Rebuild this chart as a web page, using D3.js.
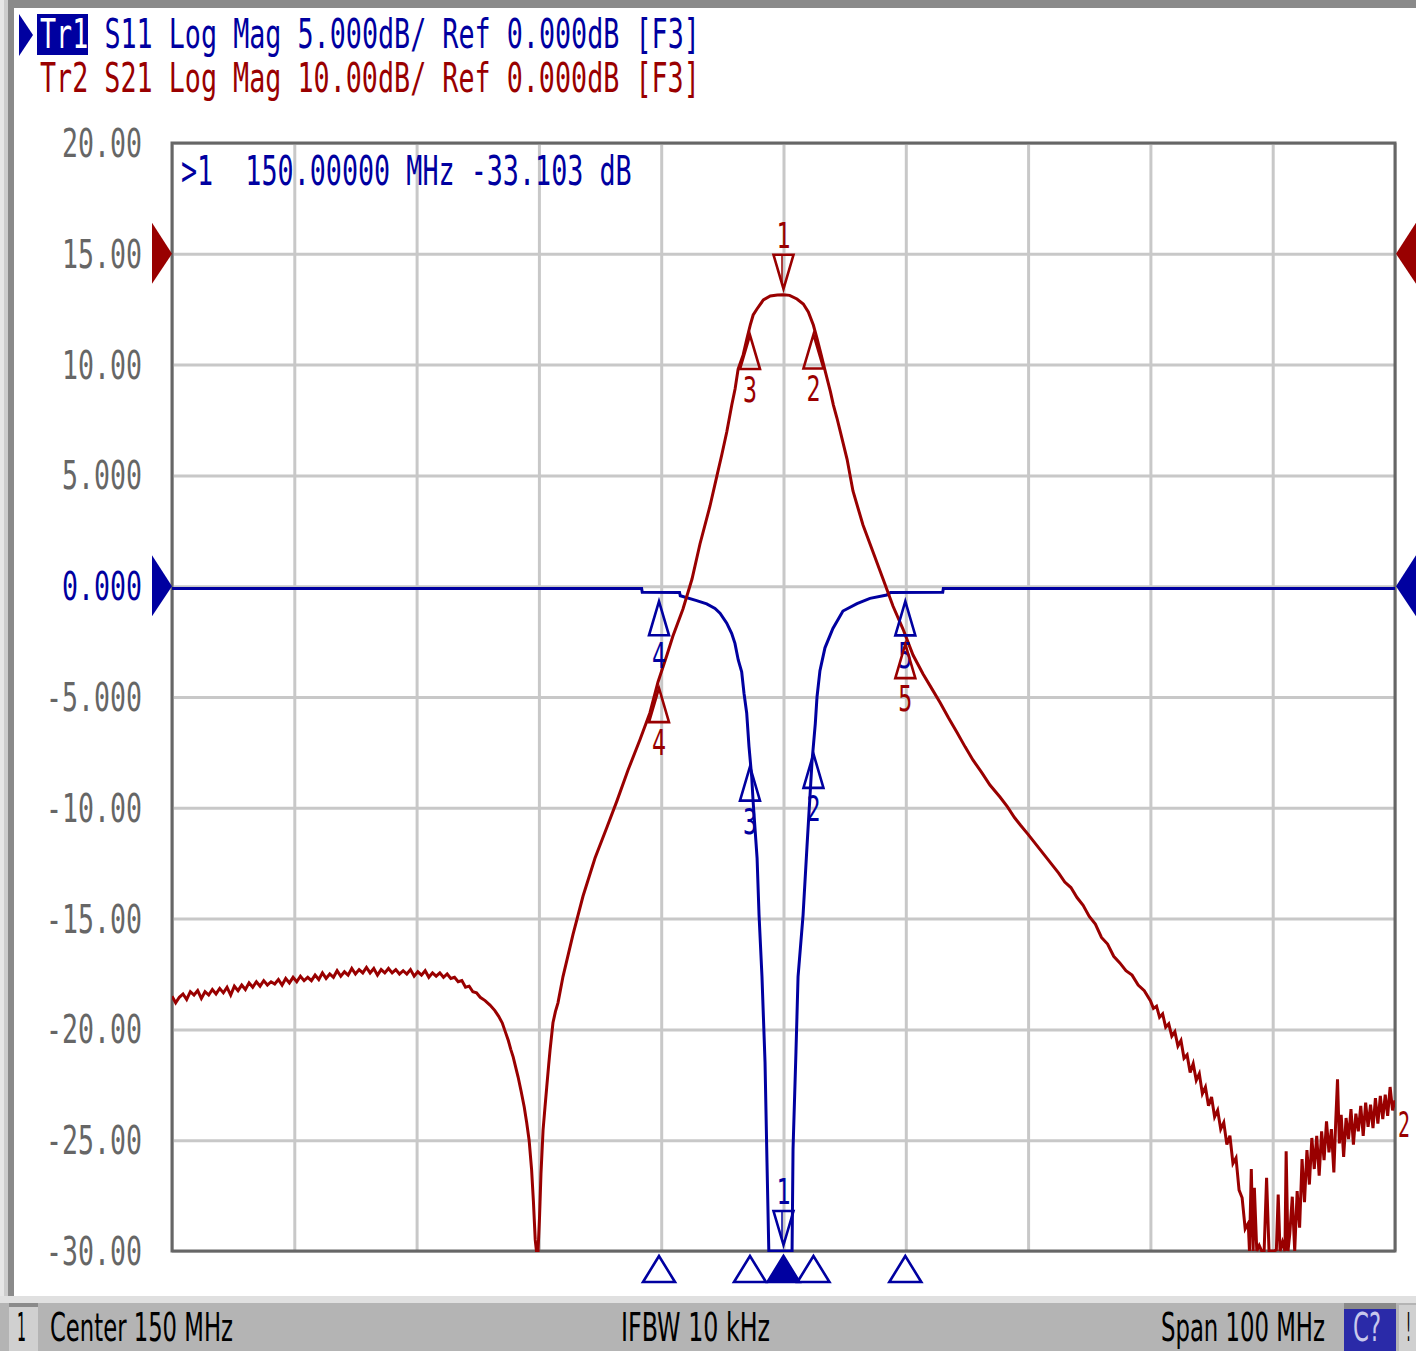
<!DOCTYPE html>
<html><head><meta charset="utf-8">
<script src="https://cdn.jsdelivr.net/npm/d3@7"></script>
<style>body{margin:0;background:#fff;overflow:hidden}text{white-space:pre}</style>
</head><body><svg id="c" width="1416" height="1351" xmlns="http://www.w3.org/2000/svg"></svg>
<script>
// ---------- data ----------
const freqDomain = [100, 200];            // MHz, center 150, span 100
const s11Domain = [-30, 20];              // 5 dB/div
const s21Domain = [-90, 10];              // 10 dB/div, ref at 15.00 grid line
const freqGrid = [100,110,120,130,140,150,160,170,180,190,200];
const s11Ticks = [20,15,10,5,0,-5,-10,-15,-20,-25,-30];
const s11TickLabels = ["20.00","15.00","10.00","5.000","0.000","-5.000","-10.00","-15.00","-20.00","-25.00","-30.00"];

// S11 (Tr1) [MHz, dB]
const s11Data = [
[100,-0.10],[138.40,-0.10],[138.45,-0.27],[141.50,-0.28],[141.56,-0.43],[142.90,-0.65],[143.72,-0.80],
[144.40,-1.00],[144.81,-1.22],[145.36,-1.67],[145.76,-2.13],[146.03,-2.58],[146.30,-3.33],[146.58,-3.86],
[146.77,-4.83],[146.99,-5.72],[147.18,-7.24],[147.40,-8.60],[147.51,-9.67],[147.84,-12.27],[148.00,-14.84],
[148.24,-17.62],[148.49,-21.5],[148.65,-26.0],[148.80,-31.0],[149.30,-33.0],[150.00,-33.10],[150.70,-32.0],
[150.78,-25.4],[151.02,-21.0],[151.19,-17.62],[151.60,-14.84],[151.92,-11.75],[152.33,-7.93],[152.60,-6.20],
[152.74,-5.00],[152.98,-3.81],[153.39,-2.78],[154.04,-1.91],[154.86,-1.12],[156.01,-0.79],[157.07,-0.55],
[158.44,-0.40],[158.75,-0.28],[163.02,-0.27],[163.07,-0.10],[200,-0.10]
];

// S21 (Tr2) [MHz, dB]
const s21Data = [
[100.0,-67.0],[100.3,-67.6],[100.6,-67.1],[100.9,-66.8],[101.2,-67.3],[101.5,-66.6],[101.8,-66.9],[102.1,-66.5],
[102.4,-67.2],[102.7,-66.6],[103.0,-66.9],[103.3,-66.4],[103.6,-66.8],[103.9,-66.3],[104.2,-66.7],[104.5,-66.2],
[104.8,-66.9],[105.1,-66.1],[105.4,-66.5],[105.7,-66.0],[106.0,-66.4],[106.3,-65.8],[106.6,-66.2],[106.9,-65.7],
[107.2,-66.1],[107.5,-65.6],[107.8,-66.0],[108.1,-65.7],[108.4,-65.9],[108.7,-65.5],[109.0,-66.0],[109.3,-65.4],
[109.6,-65.8],[109.9,-65.3],[110.2,-65.7],[110.5,-65.2],[110.8,-65.6],[111.1,-65.3],[111.4,-65.6],[111.7,-65.1],
[112.0,-65.5],[112.3,-64.9],[112.6,-65.4],[112.9,-65.0],[113.2,-65.3],[113.5,-64.7],[113.8,-65.2],[114.1,-64.8],
[114.4,-65.1],[114.7,-64.5],[115.0,-65.0],[115.3,-64.6],[115.6,-64.9],[115.9,-64.4],[116.2,-64.9],[116.5,-64.5],
[116.8,-65.1],[117.1,-64.6],[117.4,-64.9],[117.7,-64.5],[118.0,-64.9],[118.3,-64.6],[118.6,-65.0],[118.9,-64.7],
[119.2,-65.0],[119.5,-64.6],[119.8,-65.2],[120.1,-64.8],[120.4,-65.1],[120.7,-64.7],[121.0,-65.3],[121.3,-64.9],
[121.6,-65.2],[121.9,-64.9],[122.2,-65.3],[122.5,-65.0],[122.8,-65.4],[123.1,-65.3],[123.4,-65.7],[123.7,-65.6],
[124.0,-66.2],[124.3,-66.1],[124.6,-66.6],[124.9,-66.7],[125.2,-67.1],[125.6,-67.4],
[126.0,-67.8],[126.4,-68.3],[126.7,-68.8],[127.0,-69.4],[127.25,-70.2],[127.5,-71.0],[127.7,-71.8],[127.9,-72.5],
[128.1,-73.4],[128.3,-74.3],[128.55,-75.6],[128.8,-77.0],[129.0,-78.4],[129.2,-80.0],[129.4,-82.6],[129.55,-85.5],
[129.7,-89.0],[129.8,-95.0],[129.93,-93.0],[130.05,-87.0],[130.17,-83.0],[130.34,-79.1],[130.5,-77.0],[130.64,-75.2],
[130.8,-73.2],[130.91,-71.9],[131.15,-69.4],[131.35,-68.4],[131.56,-67.6],[131.97,-65.23],[132.79,-61.43],
[133.61,-57.96],[134.59,-54.53],[135.57,-51.73],[136.39,-49.35],[137.29,-46.59],[138.27,-43.84],[139.08,-41.42],
[139.74,-38.65],[140.47,-36.21],[140.96,-34.49],[141.78,-32.06],[142.52,-29.35],[143.17,-26.19],[143.99,-22.76],
[144.56,-20.02],[144.95,-18.16],[145.36,-16.08],[145.77,-13.65],[146.04,-12.2],[146.29,-10.4],[146.7,-9.13],
[147.0,-7.69],[147.28,-6.43],[147.52,-5.52],[147.83,-4.98],[148.35,-4.17],[148.92,-3.81],[149.5,-3.72],
[150.0,-3.70],[150.5,-3.75],[151.1,-4.08],[151.62,-4.53],[152.03,-5.25],[152.44,-6.43],[152.75,-7.69],
[153.02,-8.86],[153.43,-10.67],[153.84,-12.47],[154.08,-13.65],[154.37,-14.82],[154.6,-15.85],[155.2,-18.55],
[155.68,-21.41],[156.5,-24.48],[157.32,-26.92],[158.14,-29.35],[158.95,-31.79],[159.77,-33.87],[160.59,-36.21],
[161.41,-37.93],[162.1,-39.2],[162.8,-40.5],[163.5,-41.9],[164.19,-43.2],[164.85,-44.5],[165.5,-45.7],
[166.2,-46.8],[166.88,-47.95],[167.7,-49.03],
[168.3,-49.9],[168.9,-50.9],[169.4,-51.6],[170.0,-52.4],[170.5,-53.1],[171.0,-53.8],[171.5,-54.5],[172.0,-55.2],
[172.5,-55.9],[173.0,-56.7],[173.5,-57.2],[174.0,-58.1],[174.5,-58.8],[175.0,-59.8],[175.5,-60.5],[176.0,-61.7],
[176.5,-62.3],[177.0,-63.4],[177.5,-64.0],[178.0,-64.7],[178.5,-65.1],[179.0,-66.0],[179.5,-66.5],
[180.0,-67.4],[180.25,-68.1],[180.5,-67.9],[180.75,-68.9],[181.0,-68.6],[181.25,-69.8],[181.5,-69.5],[181.75,-70.6],
[182.0,-70.2],[182.25,-71.5],[182.5,-71.0],[182.75,-72.6],[183.0,-72.3],[183.25,-73.9],[183.5,-73.1],[183.75,-74.6],
[184.0,-74.0],[184.25,-75.8],[184.5,-75.2],[184.75,-76.9],[185.0,-76.1],[185.25,-77.9],[185.5,-77.3],[185.75,-79.0],
[186.0,-78.4],[186.25,-80.4],[186.5,-79.6],[186.75,-82.1],[187.0,-81.6],[187.25,-84.5],[187.5,-85.2],[187.75,-88.0],
[188.0,-87.5],[188.1,-91.5],[188.25,-82.6],[188.4,-92.0],[188.5,-84.3],[188.7,-93.0],[188.9,-89.5],[189.1,-93.0],
[189.3,-90.2],[189.5,-83.4],[189.7,-92.5],[189.9,-90.6],[190.1,-93.0],[190.3,-89.9],[190.45,-84.9],[190.6,-92.0],
[190.8,-89.2],[191.0,-90.8],[191.1,-81.0],[191.25,-91.0],[191.4,-88.4],[191.6,-85.1],[191.8,-90.5],[192.0,-84.6],
[192.2,-87.9],[192.4,-81.7],[192.6,-85.6],[192.8,-80.9],[193.0,-84.0],[193.2,-79.8],[193.4,-82.6],[193.6,-79.6],
[193.8,-83.2],[194.0,-79.2],[194.2,-81.8],[194.4,-78.3],[194.6,-81.1],[194.8,-79.0],[195.0,-82.9],[195.15,-78.4],
[195.3,-74.5],[195.45,-80.3],[195.6,-77.7],[195.8,-81.5],[196.0,-78.0],[196.2,-79.9],[196.4,-77.2],[196.6,-80.4],
[196.8,-77.6],[197.0,-79.2],[197.2,-76.9],[197.4,-79.6],[197.6,-76.6],[197.8,-78.8],[198.0,-76.8],[198.2,-78.9],
[198.4,-76.2],[198.6,-78.5],[198.8,-76.0],[199.0,-78.1],[199.2,-75.9],[199.4,-77.8],[199.6,-75.2],[199.8,-77.3],
[200.0,-76.4]
];

const markerFreqs = [150.0, 152.45, 147.26, 139.82, 159.96];
const markerNames = ["1","2","3","4","5"];
const headerLines = ["Tr1 S11 Log Mag 5.000dB/ Ref 0.000dB [F3]", "Tr2 S21 Log Mag 10.00dB/ Ref 0.000dB [F3]"];
const readoutText = ">1  150.00000 MHz -33.103 dB";
const statusLabels = ["Center 150 MHz", "IFBW 10 kHz", "Span 100 MHz"];

// ---------- drawing ----------
const BLUE = "#0000a0", RED = "#990000", GRID = "#c8c8c8", FRAME = "#666666";
const MONO = "DejaVu Sans Mono", SANS = "DejaVu Sans";
const svg = d3.select("#c");
const L = 172, R = 1395, T = 143, B = 1251;
const x = d3.scaleLinear().domain(freqDomain).range([L, R]);
const y11 = d3.scaleLinear().domain(s11Domain).range([B, T]).clamp(true);
const y21 = d3.scaleLinear().domain(s21Domain).range([B, T]).clamp(true);

// text fitted to a width (by font size) and stretched vertically to a cap height
function fitText(g, str, x0, yb, width, capH, color, family) {
  const t = g.append("text").attr("x", 0).attr("y", 0).attr("font-family", family || MONO)
    .attr("font-size", 100).attr("fill", color).attr("xml:space", "preserve").text(str);
  const w = t.node().getComputedTextLength() || (str.length * 60);
  const fs = 100 * width / w;
  const ky = capH / (0.729 * fs);
  t.attr("font-size", fs).attr("transform", `translate(${x0},${yb}) scale(1,${ky})`);
  return t;
}

// window borders
svg.append("rect").attr("x",0).attr("y",0).attr("width",1416).attr("height",8).attr("fill","#8a8a8a");
svg.append("rect").attr("x",0).attr("y",0).attr("width",4).attr("height",1297).attr("fill","#e6e6e6");
svg.append("rect").attr("x",4).attr("y",0).attr("width",4).attr("height",1297).attr("fill","#cccccc");
svg.append("rect").attr("x",8).attr("y",0).attr("width",6).attr("height",1297).attr("fill","#8a8a8a");

// grid
const grid = svg.append("g");
grid.append("g").attr("transform", `translate(0,${B})`)
  .call(d3.axisBottom(x).tickValues(freqGrid).tickSize(-(B - T)).tickFormat(""))
  .call(g => { g.select(".domain").remove(); g.selectAll("line").attr("stroke", GRID).attr("stroke-width", 3); });
grid.append("g").attr("transform", `translate(${L},0)`)
  .call(d3.axisLeft(y11).tickValues(s11Ticks).tickSize(-(R - L)).tickFormat(""))
  .call(g => { g.select(".domain").remove(); g.selectAll("line").attr("stroke", GRID).attr("stroke-width", 3); });

// frame
svg.append("rect").attr("x", L).attr("y", T).attr("width", R - L).attr("height", B - T)
  .attr("fill", "none").attr("stroke", FRAME).attr("stroke-width", 3);

// y labels
s11Ticks.forEach((t, i) => {
  const s = s11TickLabels[i];
  fitText(svg, s, 142 - s.length * 16, y11(t) + 14, s.length * 16, 28, t === 0 ? BLUE : "#666666");
});

// reference arrows
function arrowL(yv, col) { svg.append("path").attr("d", `M152,${yv-31}L172,${yv}L152,${yv+30}Z`).attr("fill", col); }
function arrowR(yv, col) { svg.append("path").attr("d", `M1416,${yv-31}L1396,${yv}L1416,${yv+30}Z`).attr("fill", col); }
arrowL(y21(0), RED); arrowL(y11(0), BLUE); arrowR(y21(0), RED); arrowR(y11(0), BLUE);

// traces
svg.append("clipPath").attr("id", "pc").append("rect")
  .attr("x", L).attr("y", T - 2).attr("width", R - L).attr("height", B - T + 3);
const tr = svg.append("g").attr("clip-path", "url(#pc)");
tr.append("path").datum(s11Data).attr("fill", "none").attr("stroke", BLUE).attr("stroke-width", 3)
  .attr("stroke-linejoin", "miter").attr("d", d3.line().x(d => x(d[0])).y(d => y11(d[1])));
tr.append("path").datum(s21Data).attr("fill", "none").attr("stroke", RED).attr("stroke-width", 3)
  .attr("stroke-linejoin", "miter").attr("d", d3.line().x(d => x(d[0])).y(d => y21(d[1])));

// markers
function valAt(data, f) {
  const i = d3.bisector(d => d[0]).left(data, f);
  if (i <= 0) return data[0][1];
  if (i >= data.length) return data[data.length - 1][1];
  const a = data[i - 1], b = data[i];
  return a[1] + (b[1] - a[1]) * (f - a[0]) / (b[0] - a[0]);
}
function drawMarkers(data, ys, col) {
  const g = svg.append("g");
  markerFreqs.forEach((f, i) => {
    const xm = x(f), ym = ys(valAt(data, f));
    if (i === 0) {
      const tip = ym - 6, base = tip - 34;
      g.append("path").attr("d", `M${xm},${tip}L${xm-10},${base}L${xm+10},${base}Z`)
        .attr("fill", "none").attr("stroke", col).attr("stroke-width", 2.6);
      g.append("line").attr("x1", xm - 1.5).attr("x2", xm - 1.5).attr("y1", base).attr("y2", tip - 4).attr("stroke", col).attr("stroke-width", 1.5);
      fitText(g, markerNames[i], xm - 7, base - 7, 14, 26, col);
    } else {
      const tip = ym + 9, base = tip + 34;
      g.append("path").attr("d", `M${xm},${tip}L${xm-10},${base}L${xm+10},${base}Z`)
        .attr("fill", "none").attr("stroke", col).attr("stroke-width", 2.6);
      fitText(g, markerNames[i], xm - 7, base + 33, 14, 26, col);
    }
  });
}
drawMarkers(s11Data, y11, BLUE);
drawMarkers(s21Data, y21, RED);

// bottom marker indicators (active trace)
markerFreqs.forEach((f, i) => {
  const xm = x(f);
  svg.append("path").attr("d", `M${xm},1256L${xm-16},1282L${xm+16},1282Z`)
    .attr("fill", i === 0 ? BLUE : "#ffffff").attr("stroke", BLUE).attr("stroke-width", 2.6);
});

// trace end label
fitText(svg, "2", 1398, 1137, 12, 26, RED);

// header
svg.append("path").attr("d", "M19,14L33,35L19,56Z").attr("fill", BLUE);
svg.append("rect").attr("x", 37).attr("y", 14).attr("width", 51).attr("height", 41).attr("fill", BLUE);
fitText(svg, headerLines[0].slice(0, 3), 40, 48, 3 * 16.1, 30, "#ffffff");
fitText(svg, headerLines[0].slice(4), 40 + 4 * 16.1, 48, (headerLines[0].length - 4) * 16.1, 30, BLUE);
fitText(svg, headerLines[1], 40, 92, headerLines[1].length * 16.1, 30, RED);

// marker readout
fitText(svg, readoutText, 181, 185, readoutText.length * 16.1, 30, BLUE);

// status bar
svg.append("rect").attr("x", 0).attr("y", 1296).attr("width", 1416).attr("height", 7).attr("fill", "#e0e0e0");
svg.append("rect").attr("x", 0).attr("y", 1303).attr("width", 1416).attr("height", 48).attr("fill", "#b4b4b4");
svg.append("rect").attr("x", 9).attr("y", 1305).attr("width", 29).attr("height", 46).attr("fill", "#d0d0d0");
svg.append("rect").attr("x", 9).attr("y", 1303).attr("width", 29).attr("height", 4).attr("fill", "#8a8a8a");
svg.append("rect").attr("x", 1344).attr("y", 1305).attr("width", 52).attr("height", 46).attr("fill", "#2a2aa8");
svg.append("rect").attr("x", 1344).attr("y", 1303).attr("width", 52).attr("height", 6).attr("fill", "#8a8a8a");
svg.append("rect").attr("x", 1399).attr("y", 1305).attr("width", 17).attr("height", 46).attr("fill", "#d0d0d0");
fitText(svg, "1", 17, 1341, 9, 28, "#000000", SANS);
fitText(svg, statusLabels[0], 50, 1341, 183, 28, "#000000", SANS);
fitText(svg, statusLabels[1], 621, 1341, 149, 28, "#000000", SANS);
fitText(svg, statusLabels[2], 1161, 1341, 164, 28, "#000000", SANS);
fitText(svg, "C?", 1353, 1341, 28, 28, "#c8c8ec", SANS);
fitText(svg, "!", 1406, 1341, 5, 28, "#000000", SANS);
</script></body></html>
